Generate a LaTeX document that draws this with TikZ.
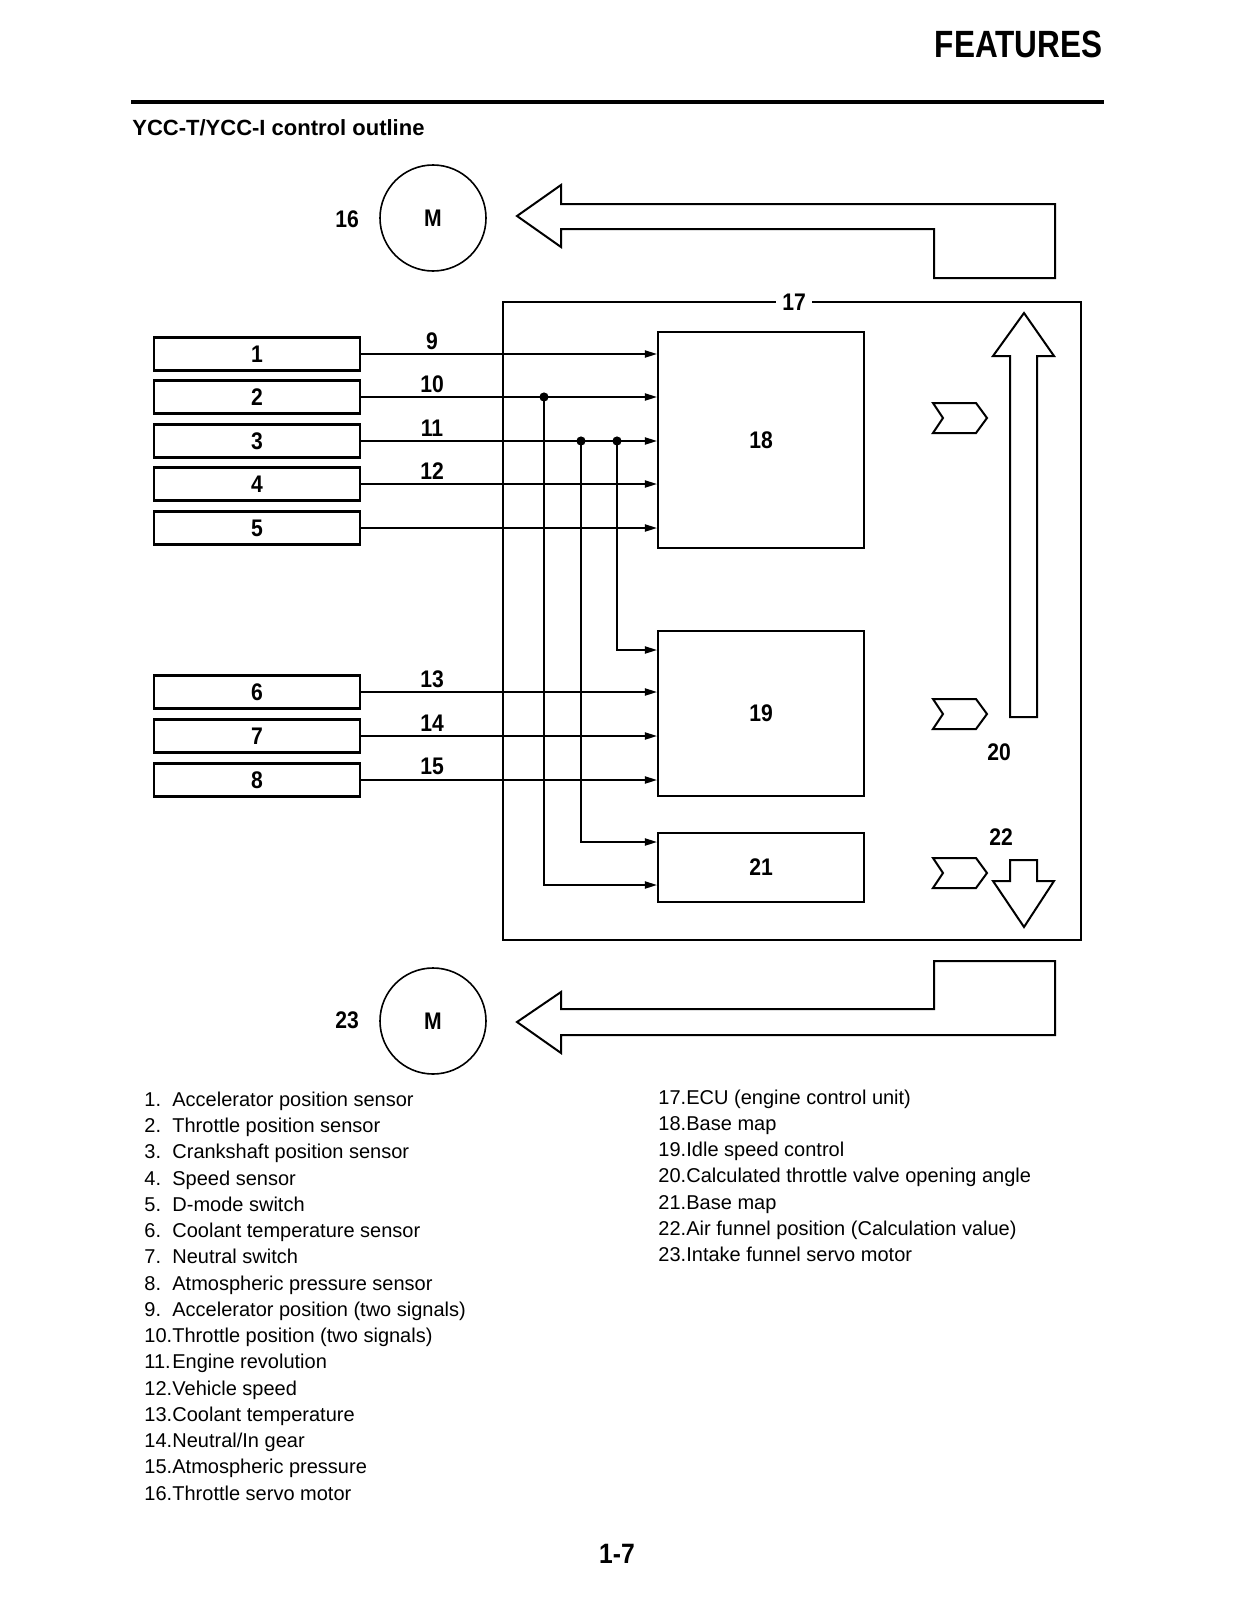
\documentclass[tikz,border=0pt]{standalone}
\usepackage{fontspec}
\setmainfont{Liberation Sans}
\newfontfamily\condb{Liberation Sans}[FakeStretch=0.88]
\newfontfamily\condhead{Liberation Sans}[FakeStretch=0.83]
\usetikzlibrary{arrows.meta}
\begin{document}
\begin{tikzpicture}[x=0.5pt,y=-0.5pt,
  lbl/.style={inner sep=0pt, font=\condb\bfseries\fontsize{12}{13}\selectfont},
  sensor/.style={draw, line width=1.1pt, minimum width=103pt, minimum height=16.5pt, inner sep=0pt, font=\condb\bfseries\fontsize{12}{13}\selectfont},
  block/.style={draw, line width=1.1pt, minimum width=103pt, inner sep=0pt, font=\condb\bfseries\fontsize{12}{13}\selectfont},
  motor/.style={circle, draw, line width=0.8pt, minimum size=53pt, inner sep=0pt, font=\condb\bfseries\fontsize{12}{13}\selectfont},
  sig/.style={line width=0.7pt, -{Triangle[length=6pt,width=3.6pt]}},
  bigarrow/.style={draw, line width=1pt, line join=miter},
  leg/.style={anchor=west, inner sep=0pt, text height=7.2pt, text depth=2pt, font=\fontsize{10}{12}\selectfont},
  dot/.style={circle, fill, inner sep=0pt, minimum size=4.6pt}
]
\useasboundingbox[fill=white] (0,0) rectangle (1236,1600);

% header
\node[anchor=east, inner sep=0pt, font=\condhead\bfseries\fontsize{19}{22}\selectfont] (feat) at (1103,44) {FEATURES};
\draw[line width=1.6pt] (131,102) -- (1104,102);
\node[anchor=west, inner sep=0pt, font=\bfseries\fontsize{11}{13}\selectfont] (title) at (132,128) {YCC-T/YCC-I control outline};

% motors
\node[motor] (m16) at (433,218) {M};
\node[lbl] (t16) at (347,219) {16};
\node[motor] (m23) at (433,1021) {M};
\node[lbl] (t23) at (347,1020) {23};

% big arrows
\draw[bigarrow] (517,216) -- (561,185) -- (561,204) -- (1055,204) -- (1055,278) -- (934,278) -- (934,229) -- (561,229) -- (561,247) -- cycle;
\draw[bigarrow] (517,1022) -- (561,992) -- (561,1009) -- (934,1009) -- (934,961) -- (1055,961) -- (1055,1035) -- (561,1035) -- (561,1053) -- cycle;

% ECU
\node[draw, line width=1.1pt, minimum width=289pt, minimum height=319pt, inner sep=0pt] (ecu) at (792,621) {};
\node[lbl, fill=white, inner xsep=3pt, inner ysep=1pt] (t17) at (794,302) {17};

% sensors
\node[sensor] (s1) at (257,354) {1};
\node[sensor] (s2) at (257,397) {2};
\node[sensor] (s3) at (257,441) {3};
\node[sensor] (s4) at (257,484) {4};
\node[sensor] (s5) at (257,528) {5};
\node[sensor] (s6) at (257,692) {6};
\node[sensor] (s7) at (257,736) {7};
\node[sensor] (s8) at (257,780) {8};

% blocks
\node[block, minimum height=108pt] (b18) at (761,440) {18};
\node[block, minimum height=82.5pt] (b19) at (761,713.5) {19};
\node[block, minimum height=34.5pt] (b21) at (761,867.5) {21};

% signal lines
\foreach \s in {s1,s2,s3,s4,s5} {\draw[sig] (\s.east) -- (\s.east -| b18.west);}
\foreach \s in {s6,s7,s8} {\draw[sig] (\s.east) -- (\s.east -| b19.west);}

\node[lbl] (t9) at (432,341) {9};
\node[lbl] (t10) at (432,384) {10};
\node[lbl] (t11) at (432,428) {11};
\node[lbl] (t12) at (432,471) {12};
\node[lbl] (t13) at (432,679) {13};
\node[lbl] (t14) at (432,723) {14};
\node[lbl] (t15) at (432,766) {15};

% branches
\node[dot] (d10) at (544,397) {};
\node[dot] (d11a) at (581,441) {};
\node[dot] (d11b) at (617,441) {};
\draw[sig] (d11b.center) |- ([yshift=31.75pt]b19.west);
\draw[sig] (d11a.center) |- ([yshift=12.75pt]b21.west);
\draw[sig] (d10.center) |- ([yshift=-8.75pt]b21.west);

% chevrons
\foreach \y [count=\i] in {418,714,873} {
  \draw[line width=1pt, line join=miter] (933,\y-15) -- (976,\y-15) -- (987,\y) -- (976,\y+15) -- (933,\y+15) -- (943,\y) -- cycle;
}

% up arrow 20
\draw[bigarrow] (1024,313) -- (1054,356) -- (1037,356) -- (1037,717) -- (1010,717) -- (1010,356) -- (993,356) -- cycle;
\node[lbl] (t20) at (999,752) {20};
% down arrow 22
\draw[bigarrow] (1010,860) -- (1037,860) -- (1037,881) -- (1054,881) -- (1024,927) -- (993,881) -- (1010,881) -- cycle;
\node[lbl] (t22) at (1001,837) {22};

% legend left
\node[leg] (l1) at (144,1101.0) {\makebox[14pt][l]{1.}Accelerator position sensor};
\node[leg] (l2) at (144,1127.3) {\makebox[14pt][l]{2.}Throttle position sensor};
\node[leg] (l3) at (144,1153.5) {\makebox[14pt][l]{3.}Crankshaft position sensor};
\node[leg] (l4) at (144,1179.8) {\makebox[14pt][l]{4.}Speed sensor};
\node[leg] (l5) at (144,1206.0) {\makebox[14pt][l]{5.}D-mode switch};
\node[leg] (l6) at (144,1232.3) {\makebox[14pt][l]{6.}Coolant temperature sensor};
\node[leg] (l7) at (144,1258.6) {\makebox[14pt][l]{7.}Neutral switch};
\node[leg] (l8) at (144,1284.8) {\makebox[14pt][l]{8.}Atmospheric pressure sensor};
\node[leg] (l9) at (144,1311.1) {\makebox[14pt][l]{9.}Accelerator position (two signals)};
\node[leg] (l10) at (144,1337.3) {\makebox[14pt][l]{10.}Throttle position (two signals)};
\node[leg] (l11) at (144,1363.6) {\makebox[14pt][l]{11.}Engine revolution};
\node[leg] (l12) at (144,1389.9) {\makebox[14pt][l]{12.}Vehicle speed};
\node[leg] (l13) at (144,1416.1) {\makebox[14pt][l]{13.}Coolant temperature};
\node[leg] (l14) at (144,1442.4) {\makebox[14pt][l]{14.}Neutral/In gear};
\node[leg] (l15) at (144,1468.6) {\makebox[14pt][l]{15.}Atmospheric pressure};
\node[leg] (l16) at (144,1494.9) {\makebox[14pt][l]{16.}Throttle servo motor};

% legend right
\node[leg] (l17) at (658,1099.0) {\makebox[14pt][l]{17.}ECU (engine control unit)};
\node[leg] (l18) at (658,1125.2) {\makebox[14pt][l]{18.}Base map};
\node[leg] (l19) at (658,1151.4) {\makebox[14pt][l]{19.}Idle speed control};
\node[leg] (l20) at (658,1177.6) {\makebox[14pt][l]{20.}Calculated throttle valve opening angle};
\node[leg] (l21) at (658,1203.8) {\makebox[14pt][l]{21.}Base map};
\node[leg] (l22) at (658,1230.0) {\makebox[14pt][l]{22.}Air funnel position (Calculation value)};
\node[leg] (l23) at (658,1256.2) {\makebox[14pt][l]{23.}Intake funnel servo motor};

% page number
\node[inner sep=0pt, font=\condb\bfseries\fontsize{14}{16}\selectfont] (pg) at (617,1554) {1-7};
\end{tikzpicture}
\end{document}
